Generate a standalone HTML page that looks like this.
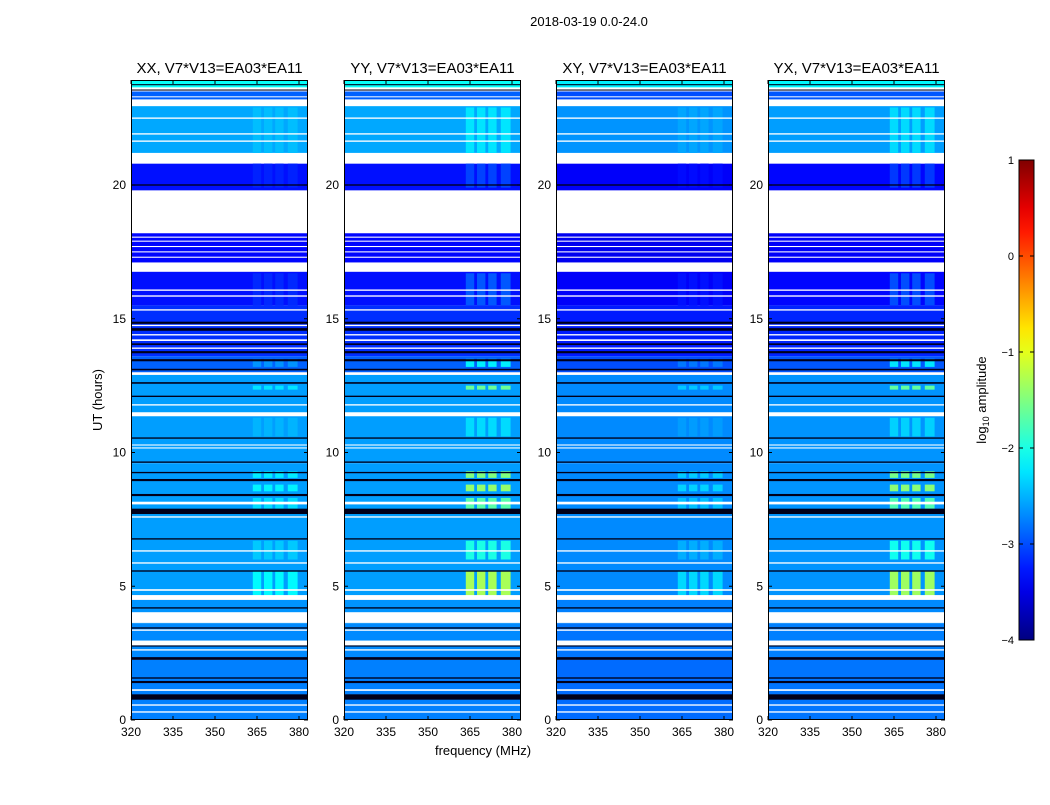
<!DOCTYPE html>
<html><head><meta charset="utf-8"><style>
body{margin:0;background:#fff;width:1050px;height:800px;overflow:hidden;font-family:"Liberation Sans",sans-serif}
svg text{font-family:"Liberation Sans",sans-serif}
</style></head><body>
<svg id="chart" width="1050" height="800" xmlns="http://www.w3.org/2000/svg">
<text x="589" y="26" font-size="13" text-anchor="middle">2018-03-19 0.0-24.0</text>
<text x="483" y="755" font-size="13" text-anchor="middle">frequency (MHz)</text>
<text x="102" y="400" font-size="13" text-anchor="middle" transform="rotate(-90 102 400)">UT (hours)</text>
<g id="panels"></g>
<g id="cbar"></g>
</svg>
<script>
const panelTitles = ["XX, V7*V13=EA03*EA11","YY, V7*V13=EA03*EA11","XY, V7*V13=EA03*EA11","YX, V7*V13=EA03*EA11"];
const panelOffsets = [0, 0, -0.1, -0.05];
const rfiScales = [0.35, 1.0, 0.3, 1.0];
const xTicks = [320,335,350,365,380];
const yTicks = [0,5,10,15,20];
const cbarTicks = [1,0,-1,-2,-3,-4];
// segments: [startHour, endHour, log10 level] ; null = flagged (white)
const segments = [
 [0,2.25,-2.75],[2.25,3.6,-2.7],[3.6,4.5,-2.65],[4.5,9.6,-2.6],[9.6,11.4,-2.6],
 [11.4,12.9,-2.6],[12.9,13.6,-2.9],[13.6,15.5,-3.15],[15.5,17.1,-3.3],[17.1,18.2,-3.35],
 [18.2,19.8,null],[19.8,20.8,-3.3],[20.8,21.2,null],[21.2,22.95,-2.55],[22.95,23.2,null],
 [23.2,23.5,-2.9],[23.5,23.65,null],[23.65,23.95,-2.1]
];
// flagged white lines: [hour, widthHours]
const whiteLines = [
 [0.30,0.05],[0.56,0.05],[1.12,0.06],[2.62,0.05],[2.88,0.18],[3.36,0.05],[3.83,0.4],
 [4.58,0.18],[4.86,0.06],[5.87,0.05],[6.32,0.05],[7.59,0.05],[8.11,0.1],[10.17,0.04],
 [10.28,0.04],[11.43,0.15],[11.78,0.05],[12.95,0.1],[13.9,0.05],[14.2,0.06],[14.4,0.05],
 [14.75,0.05],[15.33,0.05],[15.85,0.05],[16.07,0.05],[16.93,0.35],[17.3,0.04],[17.5,0.04],
 [17.7,0.04],[17.9,0.04],[18.05,0.04],[21.64,0.05],[21.91,0.05],[22.5,0.05],[23.3,0.03]
];
// very low (black) lines: [hour, widthHours]
const blackLines = [
 [0.86,0.2],[1.42,0.08],[1.57,0.05],[2.3,0.1],[2.77,0.05],[3.44,0.05],[4.19,0.05],
 [5.57,0.05],[6.77,0.05],[7.8,0.2],[8.41,0.08],[8.97,0.08],[9.25,0.05],[9.64,0.05],
 [10.54,0.05],[12.1,0.05],[12.6,0.06],[13.1,0.06],[13.45,0.08],[13.75,0.08],[14.05,0.06],
 [14.6,0.1],[14.85,0.08],[20.0,0.05],[23.55,0.04],[23.75,0.04]
];
// RFI time ranges: [start, end, boost in log10 units]
const rfiRows = [
 [4.55,5.55,1.3],[6.0,6.7,0.6],[7.9,8.3,0.9],[8.55,8.8,1.2],[9.05,9.3,1.1],
 [12.35,12.5,1.0],[13.2,13.5,0.7],[15.5,16.7,0.35],[19.9,20.8,0.25],[21.2,22.9,0.3],[10.6,11.3,0.3]
];
// RFI channel ranges (MHz)
const rfiChans = [[363.5,366.5],[367.5,370.5],[371.5,374.5],[376,379.5]];

const NS="http://www.w3.org/2000/svg";
const PX=[131,344,556,768], PW=177, PT=80, PB=720;
function xs(p,f){return PX[p]+(f-320)*2.8;}
function ys(h){return PB-h*26.75;}
function jet(v){let t=Math.max(0,Math.min(1,(v+4)/5));
 const c=x=>Math.round(255*Math.max(0,Math.min(1,1.5-Math.abs(x))));
 return `rgb(${c(4*t-3)},${c(4*t-2)},${c(4*t-1)})`;}
function mk(tag,attrs,parent){const e=document.createElementNS(NS,tag);for(const k in attrs)e.setAttribute(k,attrs[k]);parent.appendChild(e);return e;}
const root=document.getElementById('panels');
const defs=mk('defs',{},document.getElementById('chart'));
for(let p=0;p<4;p++){
 const g=mk('g',{},root);
 
 
 const cp=mk('clipPath',{id:'cp'+p},defs);
 mk('rect',{x:PX[p],y:PT,width:PW,height:PB-PT},cp);
 const hm=mk('g',{'clip-path':'url(#cp'+p+')'},g);
 
 
 for(const s of segments){
  const r=mk('rect',{x:PX[p],y:ys(s[1]),width:PW,height:ys(s[0])-ys(s[1]),fill:s[2]===null?'#fff':jet(s[2]+panelOffsets[p])},hm);
  
  
 }
 for(const rr of rfiRows){
  let base=-2.6;
  for(const s of segments){if(rr[0]>=s[0]&&rr[0]<s[1]&&s[2]!==null)base=s[2];}
  for(const c of rfiChans){
   const r=mk('rect',{x:xs(p,c[0]),y:ys(rr[1]),width:xs(p,c[1])-xs(p,c[0]),height:ys(rr[0])-ys(rr[1]),fill:jet(base+panelOffsets[p]+rr[2]*rfiScales[p])},hm);
   
   
  }
 }
 for(const l of blackLines){
  const r=mk('rect',{x:PX[p],y:ys(l[0]+l[1]/2),width:PW,height:Math.max(1,l[1]*26.75),fill:'#00001a'},hm);
  
  
 }
 for(const l of whiteLines){
  const r=mk('rect',{x:PX[p],y:ys(l[0]+l[1]/2),width:PW,height:Math.max(1,l[1]*26.75),fill:'#fff'},hm);
  
  
 }
 const fr=mk('rect',{x:PX[p]+0.5,y:PT+0.5,width:PW-1,height:PB-PT-1,fill:'none',stroke:'#000','stroke-width':1},g);
 
 
 const t=mk('text',{x:PX[p]+PW/2,y:73,'font-size':15,'text-anchor':'middle'},g);
 t.textContent=panelTitles[p];
 
 
 for(const f of xTicks){const x=xs(p,f);
  mk('line',{x1:x,x2:x,y1:PB,y2:PB-4,stroke:'#000'},g);
  mk('line',{x1:x,x2:x,y1:PT,y2:PT+4,stroke:'#000'},g);
  const tl=mk('text',{x:x,y:PB+16,'font-size':12,'text-anchor':'middle'},g);
  tl.textContent=f;
  
  
 }
 for(const h of yTicks){const y=ys(h);
  mk('line',{x1:PX[p],x2:PX[p]+4,y1:y,y2:y,stroke:'#000'},g);
  mk('line',{x1:PX[p]+PW,x2:PX[p]+PW-4,y1:y,y2:y,stroke:'#000'},g);
  const tl=mk('text',{x:PX[p]-5,y:y+4,'font-size':12,'text-anchor':'end'},g);
  tl.textContent=h;
  
  
 }
}
// colorbar
const cb=document.getElementById('cbar');
const CX=1019,CW=15,CT=160,CB=640;
const lg=mk('linearGradient',{id:'jetg',x1:0,y1:1,x2:0,y2:0},defs);
for(let i=0;i<=20;i++){mk('stop',{offset:i/20,'stop-color':jet(-4+5*i/20)},lg);}
mk('rect',{x:CX,y:CT,width:CW,height:CB-CT,fill:'url(#jetg)',stroke:'#000'},cb);
for(const v of cbarTicks){const y=CB-(v+4)/5*(CB-CT);
 mk('line',{x1:CX,x2:CX+4,y1:y,y2:y,stroke:'#000'},cb);
 mk('line',{x1:CX+CW,x2:CX+CW-4,y1:y,y2:y,stroke:'#000'},cb);
 const tl=mk('text',{x:CX-5,y:y+4,'font-size':11,'text-anchor':'end'},cb);
 tl.textContent=v<0?'\u2212'+(-v):String(v);
 
 
}
const cl=mk('text',{x:986,y:400,'font-size':13,'text-anchor':'middle',transform:'rotate(-90 986 400)'},cb);
cl.innerHTML='log<tspan font-size="9" dy="3">10</tspan><tspan dy="-3"> amplitude</tspan>';


</script>
</body></html>
